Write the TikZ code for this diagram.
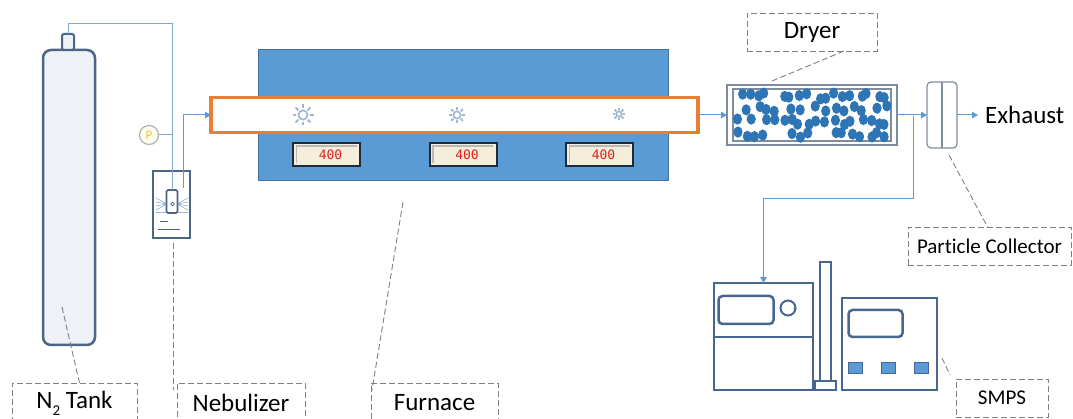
\documentclass[tikz,border=0pt]{standalone}
\usepackage{fontspec}
\setmainfont{Carlito}[Ligatures=NoCommon]
\newfontfamily\lcdfont{DejaVu Sans Mono}
\usetikzlibrary{arrows.meta}

\definecolor{pipe}{HTML}{7EA6CF}
\definecolor{flow}{HTML}{5B9BD5}
\definecolor{steel}{HTML}{4A6585}
\definecolor{tankfill}{HTML}{EEF1F6}
\definecolor{furn}{HTML}{5B9BD5}
\definecolor{furnedge}{HTML}{41719C}
\definecolor{tubeorange}{HTML}{ED7D31}
\definecolor{dryerdot}{HTML}{2E75B6}
\definecolor{labelgrey}{HTML}{808080}
\definecolor{sunblue}{HTML}{9FB8D2}
\definecolor{lcdbg}{HTML}{F4EEDB}
\definecolor{lcdframe}{HTML}{1E2B3A}
\definecolor{lcdred}{HTML}{E0201C}
\definecolor{gaugeP}{HTML}{F2C230}
\definecolor{frameline}{HTML}{7F8C9E}
\definecolor{smpsline}{HTML}{46678F}

\tikzset{
  blk/.style={inner sep=0pt, outer sep=0pt, anchor=north west},
  pipeline/.style={draw=pipe, line width=1pt},
  flowarrow/.style={draw=flow, line width=1pt, -{Triangle[length=6pt,width=6.5pt]}},
  tag/.style={blk, draw=labelgrey, dash pattern=on 6pt off 3pt, line width=0.9pt,
              text=black, align=center},
  bigtext/.style={font=\fontsize{25}{25}\selectfont},
  smalltext/.style={font=\fontsize{21}{21}\selectfont},
  leader/.style={draw=labelgrey, dash pattern=on 6pt off 3pt, line width=0.9pt},
  device/.style={blk, draw=smpsline, line width=2pt},
  lcd/.style={blk, draw=lcdframe, fill=lcdbg, line width=2pt, minimum width=67pt,
              minimum height=23pt, text=lcdred, font=\lcdfont\fontsize{13}{13}\selectfont},
  heater/.pic={
    \draw[sunblue, line width=1.7pt] (0,0) circle[radius=4.6pt];
    \foreach \ang in {0,45,...,315}
      \draw[sunblue, line width=2pt] (\ang:6.6pt) -- (\ang:10.5pt);
  },
}

\begin{document}
\begin{tikzpicture}[x=1pt, y=-1pt]
\useasboundingbox (0,0) rectangle (1073,419);
\clip (0,0) rectangle (1073,419);

% ---- nitrogen cylinder ----
\node[blk, draw=steel, fill=tankfill, line width=2.5pt, rounded corners=8pt,
      minimum width=52pt, minimum height=295pt] (tank) at (43,50) {};
\node[blk, draw=steel, fill=tankfill, line width=2pt, rounded corners=2pt,
      minimum width=12pt, minimum height=16pt] (cap) at (62,34) {};

% ---- nebulizer ----
\node[blk, draw=steel, fill=white, line width=2pt, minimum width=37pt,
      minimum height=67pt] (neb) at (153,171) {};
% spray and liquid inside the vessel
\foreach \yy in {198,202,206,210}
  \draw[sunblue, line width=0.7pt] (156,\yy) -- (167,204) (177,204) -- (188,\yy);
\draw[sunblue, line width=0.9pt] (156,212) -- (188,212);
\draw[steel, line width=0.8pt] (160,221) -- (168,221);
\draw[steel, line width=0.8pt] (158,229) -- (180,229);
\node[blk, draw=steel, fill=white, line width=1.6pt, rounded corners=1.5pt,
      minimum width=11pt, minimum height=23pt] (atomizer) at (166.5,190) {};
\draw[steel, line width=0.7pt] (172.5,204) circle[radius=1.8pt];

% gas line from the cylinder to the atomizer
\coordinate (n2corner) at (172,24);
\draw[pipeline] (cap.north) |- (n2corner) -- (atomizer.north);
\node[circle, draw=gray!60, fill=yellow!6, line width=1.2pt, minimum size=19pt,
      inner sep=0pt, text=gaugeP, font=\fontsize{13}{13}\selectfont] (gauge) at (149,135) {P};
\draw[pipeline] (gauge.east) -- (gauge.east -| n2corner);

% ---- furnace ----
\node[blk, draw=furnedge, fill=furn, line width=1pt, minimum width=410pt,
      minimum height=131pt] (furnace) at (258,50) {};
\node[blk, draw=tubeorange, fill=white, line width=3.5pt, minimum width=487pt,
      minimum height=35pt] (tube) at (211,97.5) {};
\pic at (303,115) {heater};
\pic[scale=0.78] at (457,115) {heater};
\pic[scale=0.6] at (619,114) {heater};
\foreach \xx/\nm in {293/lcdA, 429.5/lcdB, 566/lcdC} {
  \node[lcd] (\nm) at (\xx,143) {\hspace*{8pt}400};
  \draw[gray!55, line width=1.3pt] ([xshift=3.5pt,yshift=3pt]\nm.south west)
        |- ([xshift=-3.5pt,yshift=-3pt]\nm.north east);
}

% nebulizer outlet into the furnace tube
\coordinate (nebout) at (183,188);
\draw[flowarrow] (nebout) |- (tube.west);

% ---- diffusion dryer ----
\node[blk, draw=frameline, fill=white, line width=1.2pt, minimum width=170pt,
      minimum height=60pt] (dryer) at (727,85) {};
\node[blk, draw=frameline, line width=1.2pt, minimum width=158pt,
      minimum height=52pt] (dryerin) at (733,89) {};
\pgfmathsetseed{17}
\foreach \col in {0,...,17} {
  \foreach \row in {0,...,3} {
    \pgfmathsetmacro\dx{740+\col*8.6+rand*3.2}
    \pgfmathsetmacro\dy{96+\row*12.8+rand*3}
    \pgfmathsetmacro\keep{rnd}
    \ifdim\keep pt>0.12pt
      \fill[dryerdot] (\dx,\dy) ellipse[x radius=4.6pt, y radius=5.6pt];
    \fi
  }
}
\draw[flowarrow] (tube.east) -- (dryer.west);

% ---- particle collector and exhaust ----
\node[blk, draw=frameline, fill=white, line width=1.2pt, rounded corners=4pt,
      minimum width=30pt, minimum height=66pt] (collector) at (927,82) {};
\draw[frameline, line width=1.2pt] (collector.north) -- (collector.south);
\draw[flowarrow] (dryer.east) -- (collector.west);
\node[anchor=west, inner xsep=7pt, inner ysep=0pt, bigtext] (exhaust) at (978,115) {Exhaust};
\draw[flowarrow] (collector.east) -- (exhaust.west);

% ---- SMPS ----
\node[device, minimum width=99pt, minimum height=107pt] (classifier) at (714,283) {};
\draw[smpsline, line width=2pt] (classifier.west |- 0,337) -- (classifier.east |- 0,337);
\node[blk, draw=smpsline, line width=2.5pt, rounded corners=4pt, minimum width=55pt,
      minimum height=28pt] (screenA) at (718.5,296) {};
\node[circle, draw=smpsline, line width=2pt, minimum size=15pt, inner sep=0pt] (knob) at (788,308) {};
\fill[smpsline] (795,309) circle[radius=1.6pt];
\node[device, minimum width=11pt, minimum height=119pt] (column) at (820,262) {};
\node[device, fill=white, minimum width=21pt, minimum height=9pt] (colbase) at (815,381) {};
\node[device, minimum width=95pt, minimum height=92pt] (counter) at (842,298) {};
\node[blk, draw=smpsline, line width=2.5pt, rounded corners=4pt, minimum width=54pt,
      minimum height=27pt] (screenB) at (848.5,310) {};
\foreach \bx/\nm in {848/btnA, 881/btnB, 914/btnC}
  \node[blk, draw=smpsline, fill=flow, line width=1pt, minimum width=14pt,
        minimum height=11pt] (\nm) at (\bx,362) {};

% sampling line to the SMPS
\coordinate (tap) at (913,116);
\coordinate (bend) at (913,199);
\draw[flowarrow] (tap) -- (bend) -| (classifier.north);

% ---- labels ----
\node[tag, bigtext, minimum width=125pt, minimum height=40pt] (lblTank) at (12,383)
  {N\raisebox{-0.28em}{\fontsize{15}{15}\selectfont 2} Tank};
\node[tag, bigtext, minimum width=128pt, minimum height=40pt] (lblNeb) at (177,383) {Nebulizer};
\node[tag, bigtext, minimum width=127pt, minimum height=40pt] (lblFurn) at (371,383) {Furnace};
\node[tag, bigtext, minimum width=130pt, minimum height=38pt] (lblDryer) at (747,13) {Dryer};
\node[tag, smalltext, minimum width=163pt, minimum height=38pt] (lblColl) at (908,227) {Part\kern0pt icle Collector};
\node[tag, smalltext, minimum width=92pt, minimum height=38pt] (lblSmps) at (956,379) {SMPS};

% leader lines
\coordinate (tankpt) at (62,307);
\draw[leader] (tankpt) -- ([xshift=5pt]lblTank.north);
\coordinate (nebA) at (173,243);
\coordinate (nebB) at (173,390);
\draw[leader] (nebA) -- (nebB);
\coordinate (furnA) at (403,202);
\coordinate (furnB) at (372,390);
\draw[leader] (furnA) -- (furnB);
\coordinate (dryerpt) at (772,81);
\draw[leader] ([xshift=32pt]lblDryer.south) -- (dryerpt);
\coordinate (collpt) at (949,155);
\draw[leader] (collpt) -- ([xshift=-2pt]lblColl.north);
\coordinate (smpspt) at (942,358);
\coordinate (smpsend) at (950,375);
\draw[leader] (smpspt) -- (smpsend);
\end{tikzpicture}
\end{document}
